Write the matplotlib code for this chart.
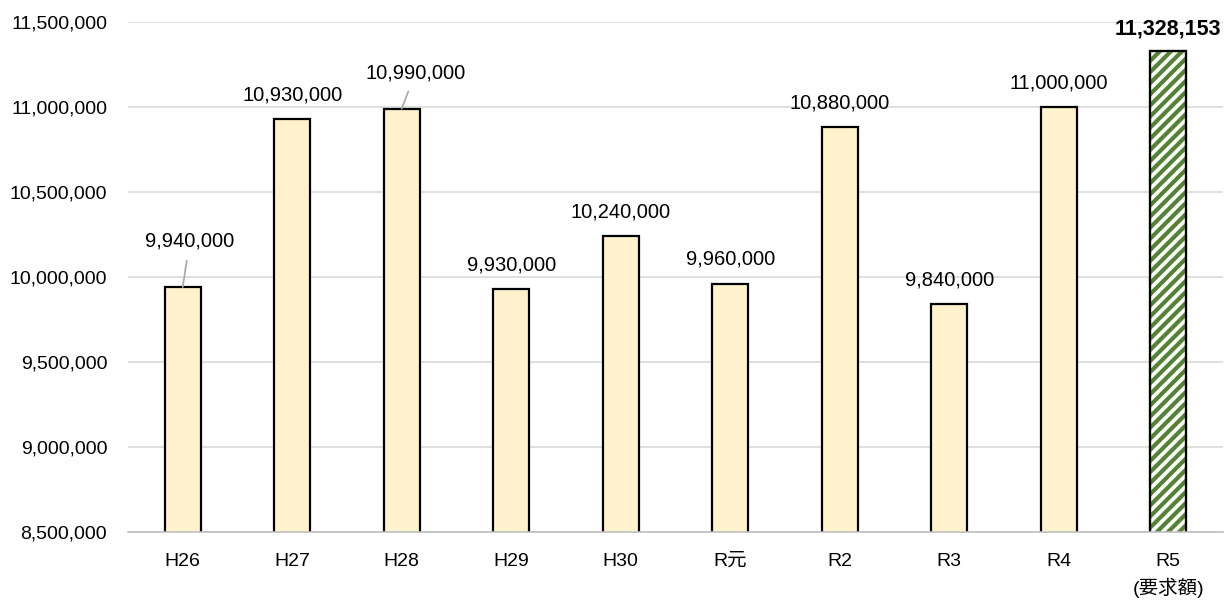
import matplotlib
matplotlib.use("Agg")
import matplotlib.pyplot as plt
from matplotlib.ticker import FuncFormatter, MultipleLocator

plt.rcParams['font.family'] = ['Liberation Sans', 'Noto Sans CJK JP']
plt.rcParams['hatch.linewidth'] = 3.0

categories = ["H26", "H27", "H28", "H29", "H30", "R元", "R2", "R3", "R4", "R5\n(要求額)"]
values = [9940000, 10930000, 10990000, 9930000, 10240000, 9960000, 10880000, 9840000, 11000000, 11328153]

fig = plt.figure(figsize=(12.27, 6.01), dpi=100)
ax = fig.add_axes([0.1043, 0.1148, 0.8924, 0.8486])

x = list(range(len(categories)))
colors = ["#FFF2CC"] * (len(values) - 1) + ["white"]
bars = ax.bar(x, values, width=0.33, color=colors, edgecolor="black", linewidth=1.6, zorder=3)
bars[-1].set_hatch("///")
bars[-1].set_edgecolor("#548235")
# black outline over hatched bar
ax.bar(x[-1], values[-1], width=0.33, fill=False, edgecolor="black", linewidth=1.6, zorder=4)

ax.set_ylim(8500000, 11500000)
ax.set_xlim(-0.5, len(categories) - 0.5)
ax.yaxis.set_major_locator(MultipleLocator(500000))
ax.yaxis.set_major_formatter(FuncFormatter(lambda v, p: f"{int(v):,}"))
ax.grid(axis="y", color="#D9D9D9", linewidth=1.2, zorder=0)
for s in ["top", "right", "left"]:
    ax.spines[s].set_visible(False)
ax.spines["bottom"].set_color("#BFBFBF")
ax.spines["bottom"].set_linewidth(1.2)
ax.spines["bottom"].set_zorder(5)
ax.tick_params(axis="both", length=0, labelsize=14, colors="black")
ax.tick_params(axis="y", pad=15)
ax.tick_params(axis="x", pad=15)
ax.set_xticks(x)
ax.set_xticklabels(categories)
for lbl in ax.get_xticklabels():
    lbl.set_linespacing(1.5)
    lbl.set_verticalalignment("top")

# data labels (offsets in points)
offsets = {0: (5, 33), 2: (10, 26)}
for i, v in enumerate(values):
    if i == len(values) - 1:
        ax.annotate(f"{v:,}", (i, v), xytext=(0, 16), textcoords="offset points",
                    ha="center", va="center", fontsize=15.5, fontweight="bold")
        continue
    dx, dy = offsets.get(i, (0, 17.5))
    if i in offsets:
        ax.annotate(f"{v:,}", (i, v), xytext=(dx, dy), textcoords="offset points",
                    ha="center", va="center", fontsize=14.5,
                    arrowprops=dict(arrowstyle="-", color="#A6A6A6", lw=1.2, shrinkA=5, shrinkB=0))
    else:
        ax.annotate(f"{v:,}", (i, v), xytext=(dx, dy), textcoords="offset points",
                    ha="center", va="center", fontsize=14.5)

fig.savefig("out.png", dpi=100)
